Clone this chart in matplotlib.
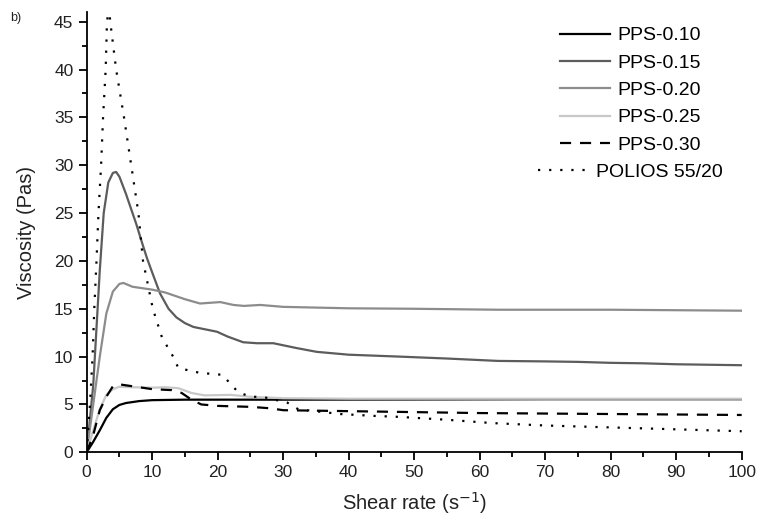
import numpy as np
import matplotlib.pyplot as plt
from matplotlib.ticker import MultipleLocator

plt.rcParams['font.family'] = ['Liberation Sans', 'DejaVu Sans']

# values
x_010 = [0, 1, 2, 3, 4, 5, 6, 8, 10, 15, 20, 30, 50, 70, 100]
y_010 = [0, 1.1, 2.3, 3.6, 4.5, 4.95, 5.15, 5.35, 5.45, 5.5, 5.5, 5.5, 5.52, 5.55, 5.55]

x_015 = [0, 1, 2, 2.6, 3.3, 4, 4.5, 5, 6, 7, 7.6, 8.5, 9.2, 10, 11.2, 12.5, 13.7, 15, 16.3, 17.3,
         19.9, 21.5, 23.9, 26, 28.5, 32, 35.1, 40, 47.8, 55, 62.8, 70, 75, 80, 85, 90, 100]
y_015 = [0, 7, 19, 25, 28.2, 29.2, 29.3, 28.8, 27, 25, 23.8, 21.8, 20.3, 18.8, 16.6, 15.0, 14.1, 13.5, 13.1, 12.96,
         12.6, 12.1, 11.5, 11.4, 11.4, 10.9, 10.5, 10.2, 10.0, 9.8, 9.55, 9.5, 9.45, 9.35, 9.3, 9.2, 9.1]

x_020 = [0, 1, 2, 3, 4, 5, 5.6, 7, 10, 12, 15, 17.3, 20.4, 22.4, 24, 26.5, 30, 40, 50, 62.8, 80, 100]
y_020 = [0, 5, 10, 14.5, 16.8, 17.6, 17.7, 17.3, 17.0, 16.7, 16.0, 15.55, 15.7, 15.4, 15.3, 15.4, 15.2, 15.05, 15.0, 14.9, 14.9, 14.8]

x_025 = [0, 1, 2, 3, 4, 5, 7, 10, 12, 14, 16, 18, 22, 25, 30, 40, 60, 100]
y_025 = [0, 2.3, 4.5, 6.0, 6.6, 6.85, 6.8, 6.75, 6.8, 6.7, 6.2, 5.95, 6.0, 5.8, 5.65, 5.6, 5.6, 5.6]

x_030 = [0, 1, 2, 3, 4, 5, 7, 10, 13, 14.5, 16, 17.5, 20, 25, 28, 30, 40, 60, 80, 100]
y_030 = [0, 1.8, 4.4, 5.8, 6.9, 7.1, 6.9, 6.6, 6.5, 6.2, 5.5, 5.0, 4.85, 4.75, 4.6, 4.4, 4.3, 4.1, 4.0, 3.9]

x_pol = [0, 0.5, 0.9, 1.16, 1.5, 1.8, 2.2, 2.5, 2.9, 3.1, 3.4, 3.6, 4.5, 5.7, 6.8, 7.9, 8.6, 10.1,
         11.5, 13.2, 14, 17.3, 20.7, 21.9, 23.1, 25, 26.8, 30.6, 32.3, 38.7, 44, 47.8, 55, 62,
         70, 80, 90, 100]
y_pol = [0, 5, 10, 15, 20, 25, 30, 35, 40, 45, 46.5, 45, 40, 35, 30, 25, 20, 15,
         12, 10, 8.8, 8.3, 8.1, 7.2, 6.3, 5.8, 5.8, 5.2, 4.5, 4.0, 3.8, 3.7, 3.4, 3.05,
         2.8, 2.6, 2.4, 2.2]

fig = plt.figure(figsize=(7.59, 5.29), dpi=100)
ax = fig.add_axes([0.1142, 0.145, 0.863, 0.832])

ax.plot(x_010, y_010, color='black', lw=1.6, label='PPS-0.10')
ax.plot(x_015, y_015, color='#5c5c5c', lw=1.6, label='PPS-0.15')
ax.plot(x_020, y_020, color='#8c8c8c', lw=1.6, label='PPS-0.20')
ax.plot(x_025, y_025, color='#c8c8c8', lw=1.6, label='PPS-0.25')
ax.plot(x_030, y_030, color='black', lw=1.6, ls=(0, (5, 4)), label='PPS-0.30')
ax.plot(x_pol, y_pol, color='black', lw=1.6, ls=(0, (1, 4)), label='POLIOS 55/20')

ax.set_xlim(0, 100)
ax.set_ylim(0, 46)
ax.xaxis.set_major_locator(MultipleLocator(10))
ax.xaxis.set_minor_locator(MultipleLocator(5))
ax.yaxis.set_major_locator(MultipleLocator(5))
ax.yaxis.set_minor_locator(MultipleLocator(2.5))
for s in ['top', 'right']:
    ax.spines[s].set_visible(False)
for s in ['left', 'bottom']:
    ax.spines[s].set_linewidth(1.3)
ax.tick_params(which='major', direction='out', length=6, width=1.3, labelsize=12.5, labelcolor='#222222')
ax.tick_params(which='minor', direction='out', length=3.5, width=1.3)

ax.set_xlabel('Shear rate (s$^{-1}$)', fontsize=14.5, color='#222222', labelpad=7)
ax.set_ylabel('Viscosity (Pas)', fontsize=14.5, color='#222222', labelpad=13)

leg = ax.legend(loc='upper right', bbox_to_anchor=(0.962, 0.964), bbox_transform=fig.transFigure,
                borderaxespad=0, frameon=False, fontsize=14,
                handlelength=2.6, handletextpad=0.35, labelspacing=0.5)
# rows centred like the original legend
for col in leg._legend_handle_box.get_children():
    col.align = 'center'

fig.text(0.013, 0.96, 'b)', fontsize=9, color='#222222')

fig.savefig('out.png', dpi=100)
